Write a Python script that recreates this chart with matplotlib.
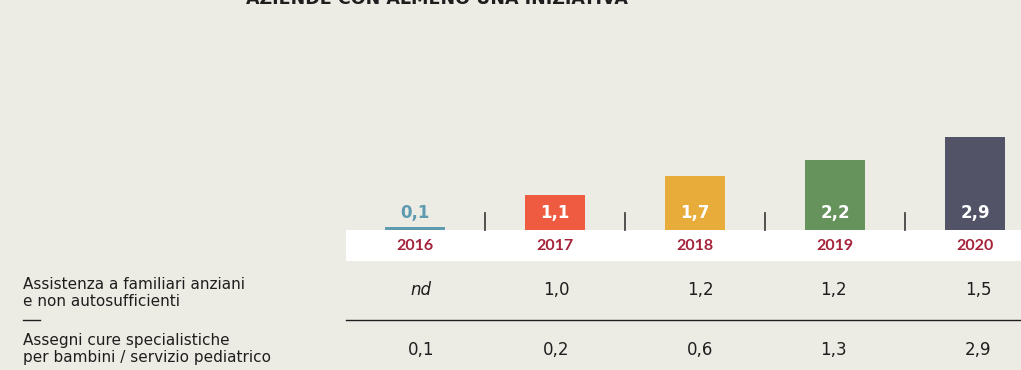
import matplotlib
matplotlib.use("Agg")
import matplotlib.pyplot as plt
from matplotlib.patches import Rectangle
from matplotlib.lines import Line2D

# Data
years = ["2016", "2017", "2018", "2019", "2020"]
share_any = [0.1, 1.1, 1.7, 2.2, 2.9]
bar_colors = ["#5E9BB0", "#EE5B41", "#E8AC3A", "#66925B", "#525366"]

row_labels = [
    "Assistenza a familiari anziani\ne non autosufficienti",
    "Assegni cure specialistiche\nper bambini / servizio pediatrico",
]
row_elderly = ["nd", "1,0", "1,2", "1,2", "1,5"]
row_children = ["0,1", "0,2", "0,6", "1,3", "2,9"]

title = "AZIENDE CON ALMENO UNA INIZIATIVA"

BG = "#EDECE4"
YEAR_COLOR = "#A6223A"
INK = "#1E1E1E"
W, H = 1021, 370
PX_X0, PX_STEP = 415.0, 140.0   # pixel of first category centre, spacing
PX_BASE, PX_UNIT = 230.0, 32.0  # pixel of zero line, pixels per unit

fig = plt.figure(figsize=(W / 100, H / 100), dpi=100)
fig.patch.set_facecolor(BG)
ax = fig.add_axes([0, 0, 1, 1])
ax.set_facecolor(BG)
ax.set_xlim(-PX_X0 / PX_STEP, (W - PX_X0) / PX_STEP)
ax.set_ylim((PX_BASE - H) / PX_UNIT, PX_BASE / PX_UNIT)
ax.axis("off")


def dx(px):
    return (px - PX_X0) / PX_STEP


def dy(py):
    return (PX_BASE - py) / PX_UNIT


# white band behind the year labels
ax.add_patch(Rectangle((dx(346), dy(261)), dx(W + 5) - dx(346), dy(230) - dy(261),
                       facecolor="white", edgecolor="none", zorder=1))

xs = list(range(len(years)))
ax.bar(xs, share_any, width=60 / PX_STEP, color=bar_colors, zorder=2)

for i, v in enumerate(share_any):
    lbl = f"{v:.1f}".replace(".", ",")
    color = bar_colors[i] if v < 0.5 else "white"
    ax.text(i, dy(213), lbl, ha="center", va="center", color=color,
            fontsize=12, fontweight="bold", family="DejaVu Sans", zorder=3)
    ax.text(i, dy(246), years[i], ha="center", va="center", color=YEAR_COLOR,
            fontsize=11.5, fontweight="bold", family="Lato", zorder=3)

# separators between years
for i in range(len(years) - 1):
    ax.plot([i + 0.5, i + 0.5], [dy(213), dy(230)], color="#444444", lw=1.3, zorder=3)

# table rows
label_kw = dict(ha="left", va="center", color=INK, fontsize=11, family="DejaVu Sans",
                linespacing=1.2)
ax.text(dx(23), dy(293), row_labels[0], **label_kw)
ax.text(dx(23), dy(349), row_labels[1], **label_kw)

val_x = [421, 556, 700, 833, 978]
for i in range(len(years)):
    ax.text(dx(val_x[i]), dy(290), row_elderly[i], ha="center", va="center",
            color=INK, fontsize=12, family="DejaVu Sans",
            style="italic" if row_elderly[i] == "nd" else "normal")
    ax.text(dx(val_x[i]), dy(350), row_children[i], ha="center", va="center",
            color=INK, fontsize=12, family="DejaVu Sans")

ax.add_line(Line2D([dx(346), dx(W + 5)], [dy(320), dy(320)], color=INK, lw=1.0))
ax.add_line(Line2D([dx(23), dx(40)], [dy(320), dy(320)], color=INK, lw=1.0))

# heading, partly above the top edge
ax.text(dx(437), dy(4), title, ha="center", va="baseline", color=INK,
        fontsize=12.6, fontweight="bold", family="DejaVu Sans")

fig.savefig("out.png", dpi=100, facecolor=BG)
